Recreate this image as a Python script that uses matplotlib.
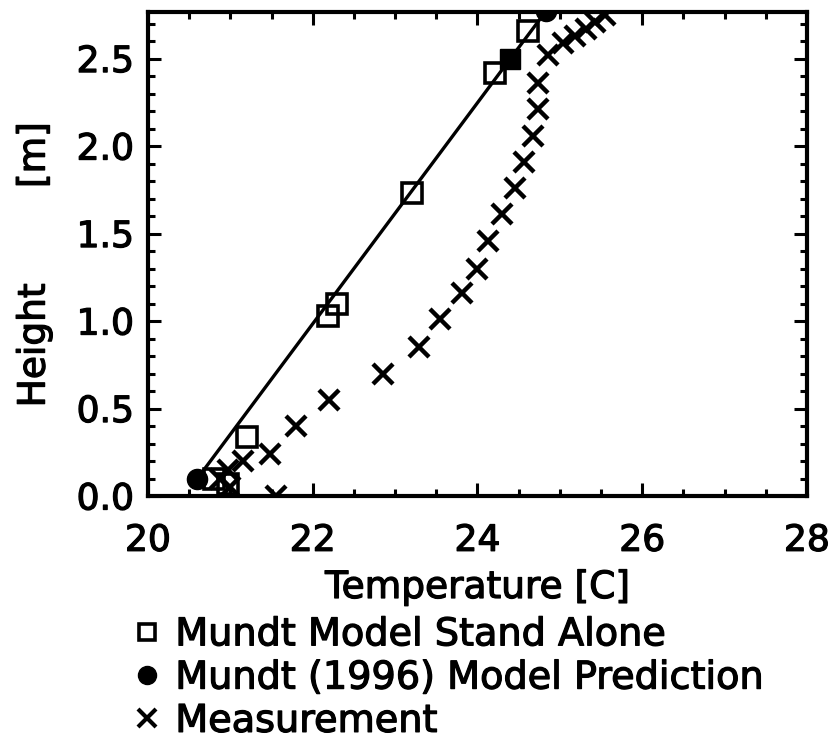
import matplotlib
matplotlib.use("Agg")
import matplotlib.pyplot as plt
import matplotlib.patheffects as pe
from matplotlib.lines import Line2D
from matplotlib.ticker import MultipleLocator, FormatStrFormatter

plt.rcParams['font.family'] = ['DejaVu Sans']

# Mundt model run stand-alone
stand_alone_temp = [20.80, 20.97, 21.20, 22.19, 22.30, 23.20, 24.21, 24.61]
stand_alone_height = [0.10, 0.07, 0.34, 1.03, 1.10, 1.73, 2.42, 2.66]

# Mundt (1996) linear profile prediction: floor, 2.5 m, ceiling
mundt_temp = [20.60, 24.40, 24.83]
mundt_height = [0.10, 2.50, 2.77]

# Measured profile
meas_temp = [21.56, 21.00, 20.87, 20.97, 21.15, 21.48, 21.80, 22.20, 22.85,
             23.29, 23.55, 23.81, 23.99, 24.13, 24.30, 24.45, 24.56, 24.68,
             24.73, 24.74, 24.86, 25.04, 25.18, 25.32, 25.43, 25.55]
meas_height = [0.00, 0.05, 0.10, 0.15, 0.20, 0.24, 0.40, 0.55, 0.70,
               0.85, 1.01, 1.16, 1.30, 1.46, 1.61, 1.76, 1.91, 2.06,
               2.21, 2.36, 2.52, 2.59, 2.63, 2.67, 2.71, 2.75]

legend_labels = ["Mundt Model Stand Alone",
                 "Mundt (1996) Model Prediction",
                 "Measurement"]

# slightly heavier strokes for all text
thick = [pe.withStroke(linewidth=0.9, foreground='black')]

fig = plt.figure(figsize=(8.36, 7.42), dpi=100)
ax = fig.add_axes([0.177, 0.3315, 0.7883, 0.6523])

ms = 14.5
mew = 2.6

ax.plot(mundt_temp, mundt_height, color='black', lw=2.4, zorder=3)
ax.plot(mundt_temp[0], mundt_height[0], 'o', color='black', ms=ms, zorder=4)
ax.plot(mundt_temp[1], mundt_height[1], 's', color='black', ms=ms, zorder=4)
ax.plot(mundt_temp[2], mundt_height[2], 'o', color='black', ms=ms, zorder=4)
ax.plot(stand_alone_temp, stand_alone_height, 's', ls='none', mfc='none',
        mec='black', ms=ms, mew=mew, zorder=5)
ax.plot(meas_temp, meas_height, 'x', ls='none', color='black', ms=ms,
        mew=mew + 0.6, zorder=5)

ax.set_xlim(20, 28)
ax.set_ylim(0, 2.766)
ax.xaxis.set_major_locator(MultipleLocator(2))
ax.xaxis.set_minor_locator(MultipleLocator(0.5))
ax.yaxis.set_major_locator(MultipleLocator(0.5))
ax.yaxis.set_minor_locator(MultipleLocator(0.1))
ax.yaxis.set_major_formatter(FormatStrFormatter('%.1f'))
ax.tick_params(which='both', direction='in', top=True, right=True,
               width=2.2, labelsize=26, colors='black')
ax.tick_params(which='major', length=9.5)
ax.tick_params(which='minor', length=5)
ax.tick_params(axis='x', which='major', pad=20)
ax.tick_params(axis='y', which='major', pad=10)
for s in ax.spines.values():
    s.set_linewidth(3)
for lab in ax.get_xticklabels() + ax.get_yticklabels():
    lab.set_path_effects(thick)

xl = ax.set_xlabel("Temperature [C]", fontsize=27, va='center')
ax.xaxis.set_label_coords(0.5, -0.19)
yl = ax.set_ylabel("Height        [m]", fontsize=27, va='center')
ax.yaxis.set_label_coords(-0.172, 0.477)
xl.set_path_effects(thick)
yl.set_path_effects(thick)

handles = [
    Line2D([], [], marker='s', ls='none', mfc='none', mec='black', ms=12, mew=2.6),
    Line2D([], [], marker='o', ls='none', color='black', ms=13),
    Line2D([], [], marker='x', ls='none', color='black', ms=13, mew=3.0),
]
leg = fig.legend(handles, legend_labels, loc='upper left',
                 bbox_to_anchor=(0.158, 0.168), bbox_transform=fig.transFigure,
                 frameon=False, fontsize=27.5, handlelength=0.78, handletextpad=0.35,
                 labelspacing=0.19, borderaxespad=0, borderpad=0)
for t in leg.get_texts():
    t.set_path_effects(thick)

fig.savefig("out.png", dpi=100)
